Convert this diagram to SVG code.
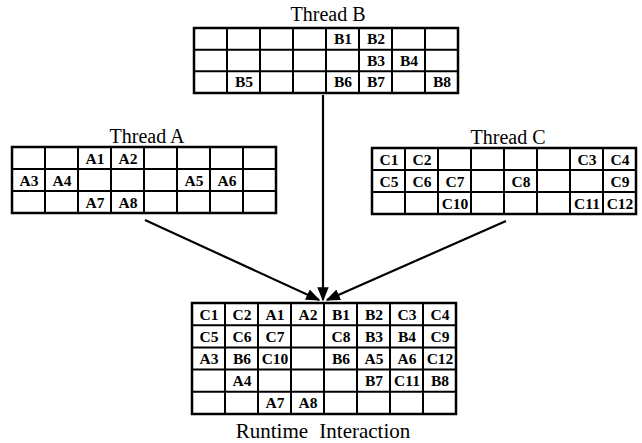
<svg xmlns="http://www.w3.org/2000/svg" width="642" height="443" viewBox="0 0 642 443">
<style>
.grid{fill:#fff;stroke:#000;stroke-width:2.5}
.gl{fill:none;stroke:#000;stroke-width:2}
.title{font-family:"Liberation Serif","Times New Roman",serif;font-size:20px;fill:#000;text-anchor:middle}
.c{font-family:"Liberation Serif","Times New Roman",serif;font-size:15.5px;font-weight:bold;fill:#000;text-anchor:middle}
.conn{stroke:#000;stroke-width:2.2;fill:none}
</style>
<defs>
<marker id="ah" viewBox="0 0 10 10" refX="9" refY="5" markerWidth="6.5" markerHeight="6.5" markerUnits="strokeWidth" orient="auto">
<path d="M0,1 L10,5 L0,9 Z" fill="#000"/>
</marker>
</defs>
<rect width="642" height="443" fill="#fff"/>

<g id="thread-b">
<text class="title" x="328" y="21">Thread B</text>
<rect class="grid" x="194" y="28" width="264" height="65"/>
<path class="gl" d="M227,28V93M260,28V93M293,28V93M326,28V93M359,28V93M392,28V93M425,28V93M194,49.7H458M194,71.3H458"/>
<text class="c" x="343" y="44">B1</text><text class="c" x="376" y="44">B2</text>
<text class="c" x="376" y="65.5">B3</text><text class="c" x="409" y="65.5">B4</text>
<text class="c" x="244" y="87">B5</text><text class="c" x="343" y="87">B6</text><text class="c" x="376" y="87">B7</text><text class="c" x="442" y="87">B8</text>
</g>

<g id="thread-a">
<text class="title" x="147" y="143">Thread A</text>
<rect class="grid" x="12" y="147" width="264" height="66"/>
<path class="gl" d="M45,147V213M78,147V213M111,147V213M144,147V213M177,147V213M210,147V213M243,147V213M12,169H276M12,191H276"/>
<text class="c" x="95" y="163.5">A1</text><text class="c" x="128" y="163.5">A2</text>
<text class="c" x="29" y="185.5">A3</text><text class="c" x="62" y="185.5">A4</text><text class="c" x="194" y="185.5">A5</text><text class="c" x="227" y="185.5">A6</text>
<text class="c" x="95" y="207.5">A7</text><text class="c" x="128" y="207.5">A8</text>
</g>

<g id="thread-c">
<text class="title" x="508" y="144">Thread C</text>
<rect class="grid" x="372" y="148" width="264" height="66"/>
<path class="gl" d="M405,148V214M438,148V214M471,148V214M504,148V214M537,148V214M570,148V214M603,148V214M372,170H636M372,192H636"/>
<text class="c" x="389" y="164.5">C1</text><text class="c" x="422" y="164.5">C2</text><text class="c" x="587" y="164.5">C3</text><text class="c" x="620" y="164.5">C4</text>
<text class="c" x="389" y="186.5">C5</text><text class="c" x="422" y="186.5">C6</text><text class="c" x="455" y="186.5">C7</text><text class="c" x="521" y="186.5">C8</text><text class="c" x="620" y="186.5">C9</text>
<text class="c" x="455" y="208.5">C10</text><text class="c" x="587" y="208.5">C11</text><text class="c" x="620" y="208.5">C12</text>
</g>

<g id="runtime">
<rect class="grid" x="192" y="303" width="264" height="111"/>
<path class="gl" d="M225,303V414M258,303V414M291,303V414M324,303V414M357,303V414M390,303V414M423,303V414M192,325.2H456M192,347.4H456M192,369.6H456M192,391.8H456"/>
<text class="c" x="209" y="319.5">C1</text><text class="c" x="242" y="319.5">C2</text><text class="c" x="275" y="319.5">A1</text><text class="c" x="308" y="319.5">A2</text><text class="c" x="341" y="319.5">B1</text><text class="c" x="374" y="319.5">B2</text><text class="c" x="407" y="319.5">C3</text><text class="c" x="440" y="319.5">C4</text>
<text class="c" x="209" y="341.5">C5</text><text class="c" x="242" y="341.5">C6</text><text class="c" x="275" y="341.5">C7</text><text class="c" x="341" y="341.5">C8</text><text class="c" x="374" y="341.5">B3</text><text class="c" x="407" y="341.5">B4</text><text class="c" x="440" y="341.5">C9</text>
<text class="c" x="209" y="363.5">A3</text><text class="c" x="242" y="363.5">B6</text><text class="c" x="275" y="363.5">C10</text><text class="c" x="341" y="363.5">B6</text><text class="c" x="374" y="363.5">A5</text><text class="c" x="407" y="363.5">A6</text><text class="c" x="440" y="363.5">C12</text>
<text class="c" x="242" y="385.5">A4</text><text class="c" x="374" y="385.5">B7</text><text class="c" x="407" y="385.5">C11</text><text class="c" x="440" y="385.5">B8</text>
<text class="c" x="275" y="408">A7</text><text class="c" x="308" y="408">A8</text>
<text class="title" x="323" y="438" style="font-size:21px;word-spacing:6px">Runtime Interaction</text>
</g>

<g id="connectors">
<line class="conn" x1="145" y1="220" x2="319" y2="300" marker-end="url(#ah)"/>
<line class="conn" x1="323" y1="95" x2="323" y2="300" marker-end="url(#ah)"/>
<line class="conn" x1="506" y1="221" x2="327" y2="300" marker-end="url(#ah)"/>
</g>
</svg>
